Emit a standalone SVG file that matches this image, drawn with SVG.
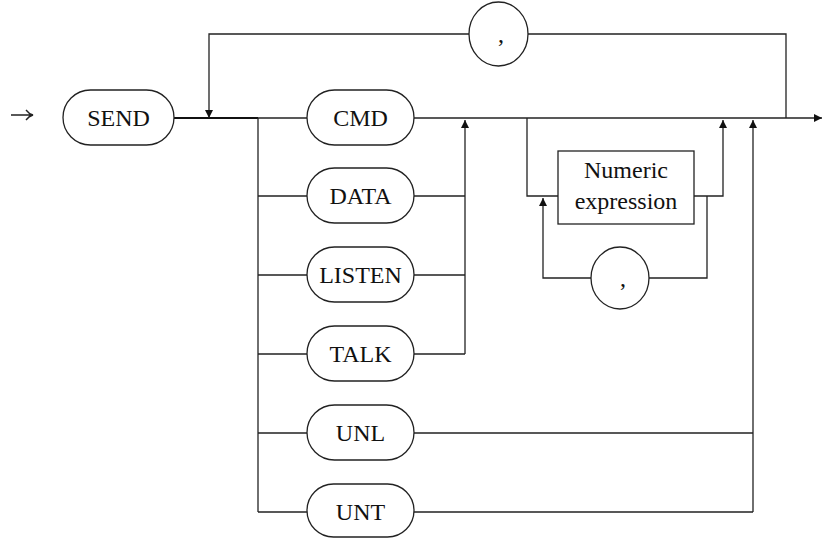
<svg xmlns="http://www.w3.org/2000/svg" width="823" height="538" viewBox="0 0 823 538">
<style>
.pill{fill:#fff;stroke:#222;stroke-width:1.3}
.box{fill:#fff;stroke:#222;stroke-width:1.3}
.ln{fill:none;stroke:#222;stroke-width:1.3}
.thick{fill:none;stroke:#111;stroke-width:2}
.t{font-size:24px;fill:#111;text-anchor:middle}
</style>
<defs>
<marker id="ah" viewBox="0 0 10 10" refX="10" refY="5" markerWidth="9" markerHeight="8" markerUnits="userSpaceOnUse" orient="auto"><path d="M0,0 L10,5 L0,10 z" fill="#111"/></marker>
</defs>
<g id="connectors">
<path class="ln" d="M11,115 H32 M26,110 Q29,114 33,115 Q29,116 26,120" stroke-width="1"/>
<path class="thick" d="M174,118 H258"/>
<path class="ln" d="M258,118 H307"/>
<path class="ln" d="M414,118 H822" marker-end="url(#ah)"/>
<path class="ln" d="M786,118 V34 H528"/>
<path class="ln" d="M469,34 H209 V118" marker-end="url(#ah)"/>
<path class="ln" d="M258,118 V512"/>
<path class="ln" d="M258,196 H307 M258,275 H307 M258,354 H307 M258,433 H307 M258,512 H307"/>
<path class="ln" d="M414,196 H465 M414,275 H465 M414,354 H465"/>
<path class="ln" d="M465,354 V120" marker-end="url(#ah)"/>
<path class="ln" d="M414,433 H753 M414,512 H753"/>
<path class="ln" d="M753,512 V120" marker-end="url(#ah)"/>
<path class="ln" d="M527,118 V196 H558"/>
<path class="ln" d="M694,196 H723 V120" marker-end="url(#ah)"/>
<path class="ln" d="M707,196 V278 H649"/>
<path class="ln" d="M591,278 H543 V198" marker-end="url(#ah)"/>
</g>
<g font-family="'Liberation Serif', 'Times New Roman', 'DejaVu Serif', serif">
<g id="send"><rect class="pill" x="63" y="90" width="111" height="55" rx="27.5"/><text class="t" x="118.5" y="126">SEND</text></g>
<g id="cmd"><rect class="pill" x="307" y="90" width="107" height="55" rx="27.5"/><text class="t" x="360.5" y="126">CMD</text></g>
<g id="data"><rect class="pill" x="307" y="168" width="107" height="55" rx="27.5"/><text class="t" x="360.5" y="204">DATA</text></g>
<g id="listen"><rect class="pill" x="307" y="247" width="107" height="55" rx="27.5"/><text class="t" x="360.5" y="283">LISTEN</text></g>
<g id="talk"><rect class="pill" x="307" y="326" width="107" height="55" rx="27.5"/><text class="t" x="360.5" y="362">TALK</text></g>
<g id="unl"><rect class="pill" x="307" y="405" width="107" height="55" rx="27.5"/><text class="t" x="360.5" y="441">UNL</text></g>
<g id="unt"><rect class="pill" x="307" y="484" width="107" height="53" rx="26.5"/><text class="t" x="360.5" y="520">UNT</text></g>
<g id="comma-top"><ellipse class="pill" cx="498.5" cy="34" rx="29.5" ry="32"/><text class="t" x="501" y="42">,</text></g>
<g id="numeric"><rect class="box" x="558" y="151" width="136" height="73"/><text class="t" x="626" y="178">Numeric</text><text class="t" x="626" y="209">expression</text></g>
<g id="comma-bottom"><ellipse class="pill" cx="620" cy="278" rx="29" ry="31"/><text class="t" x="623" y="286">,</text></g>
</g>
</svg>
